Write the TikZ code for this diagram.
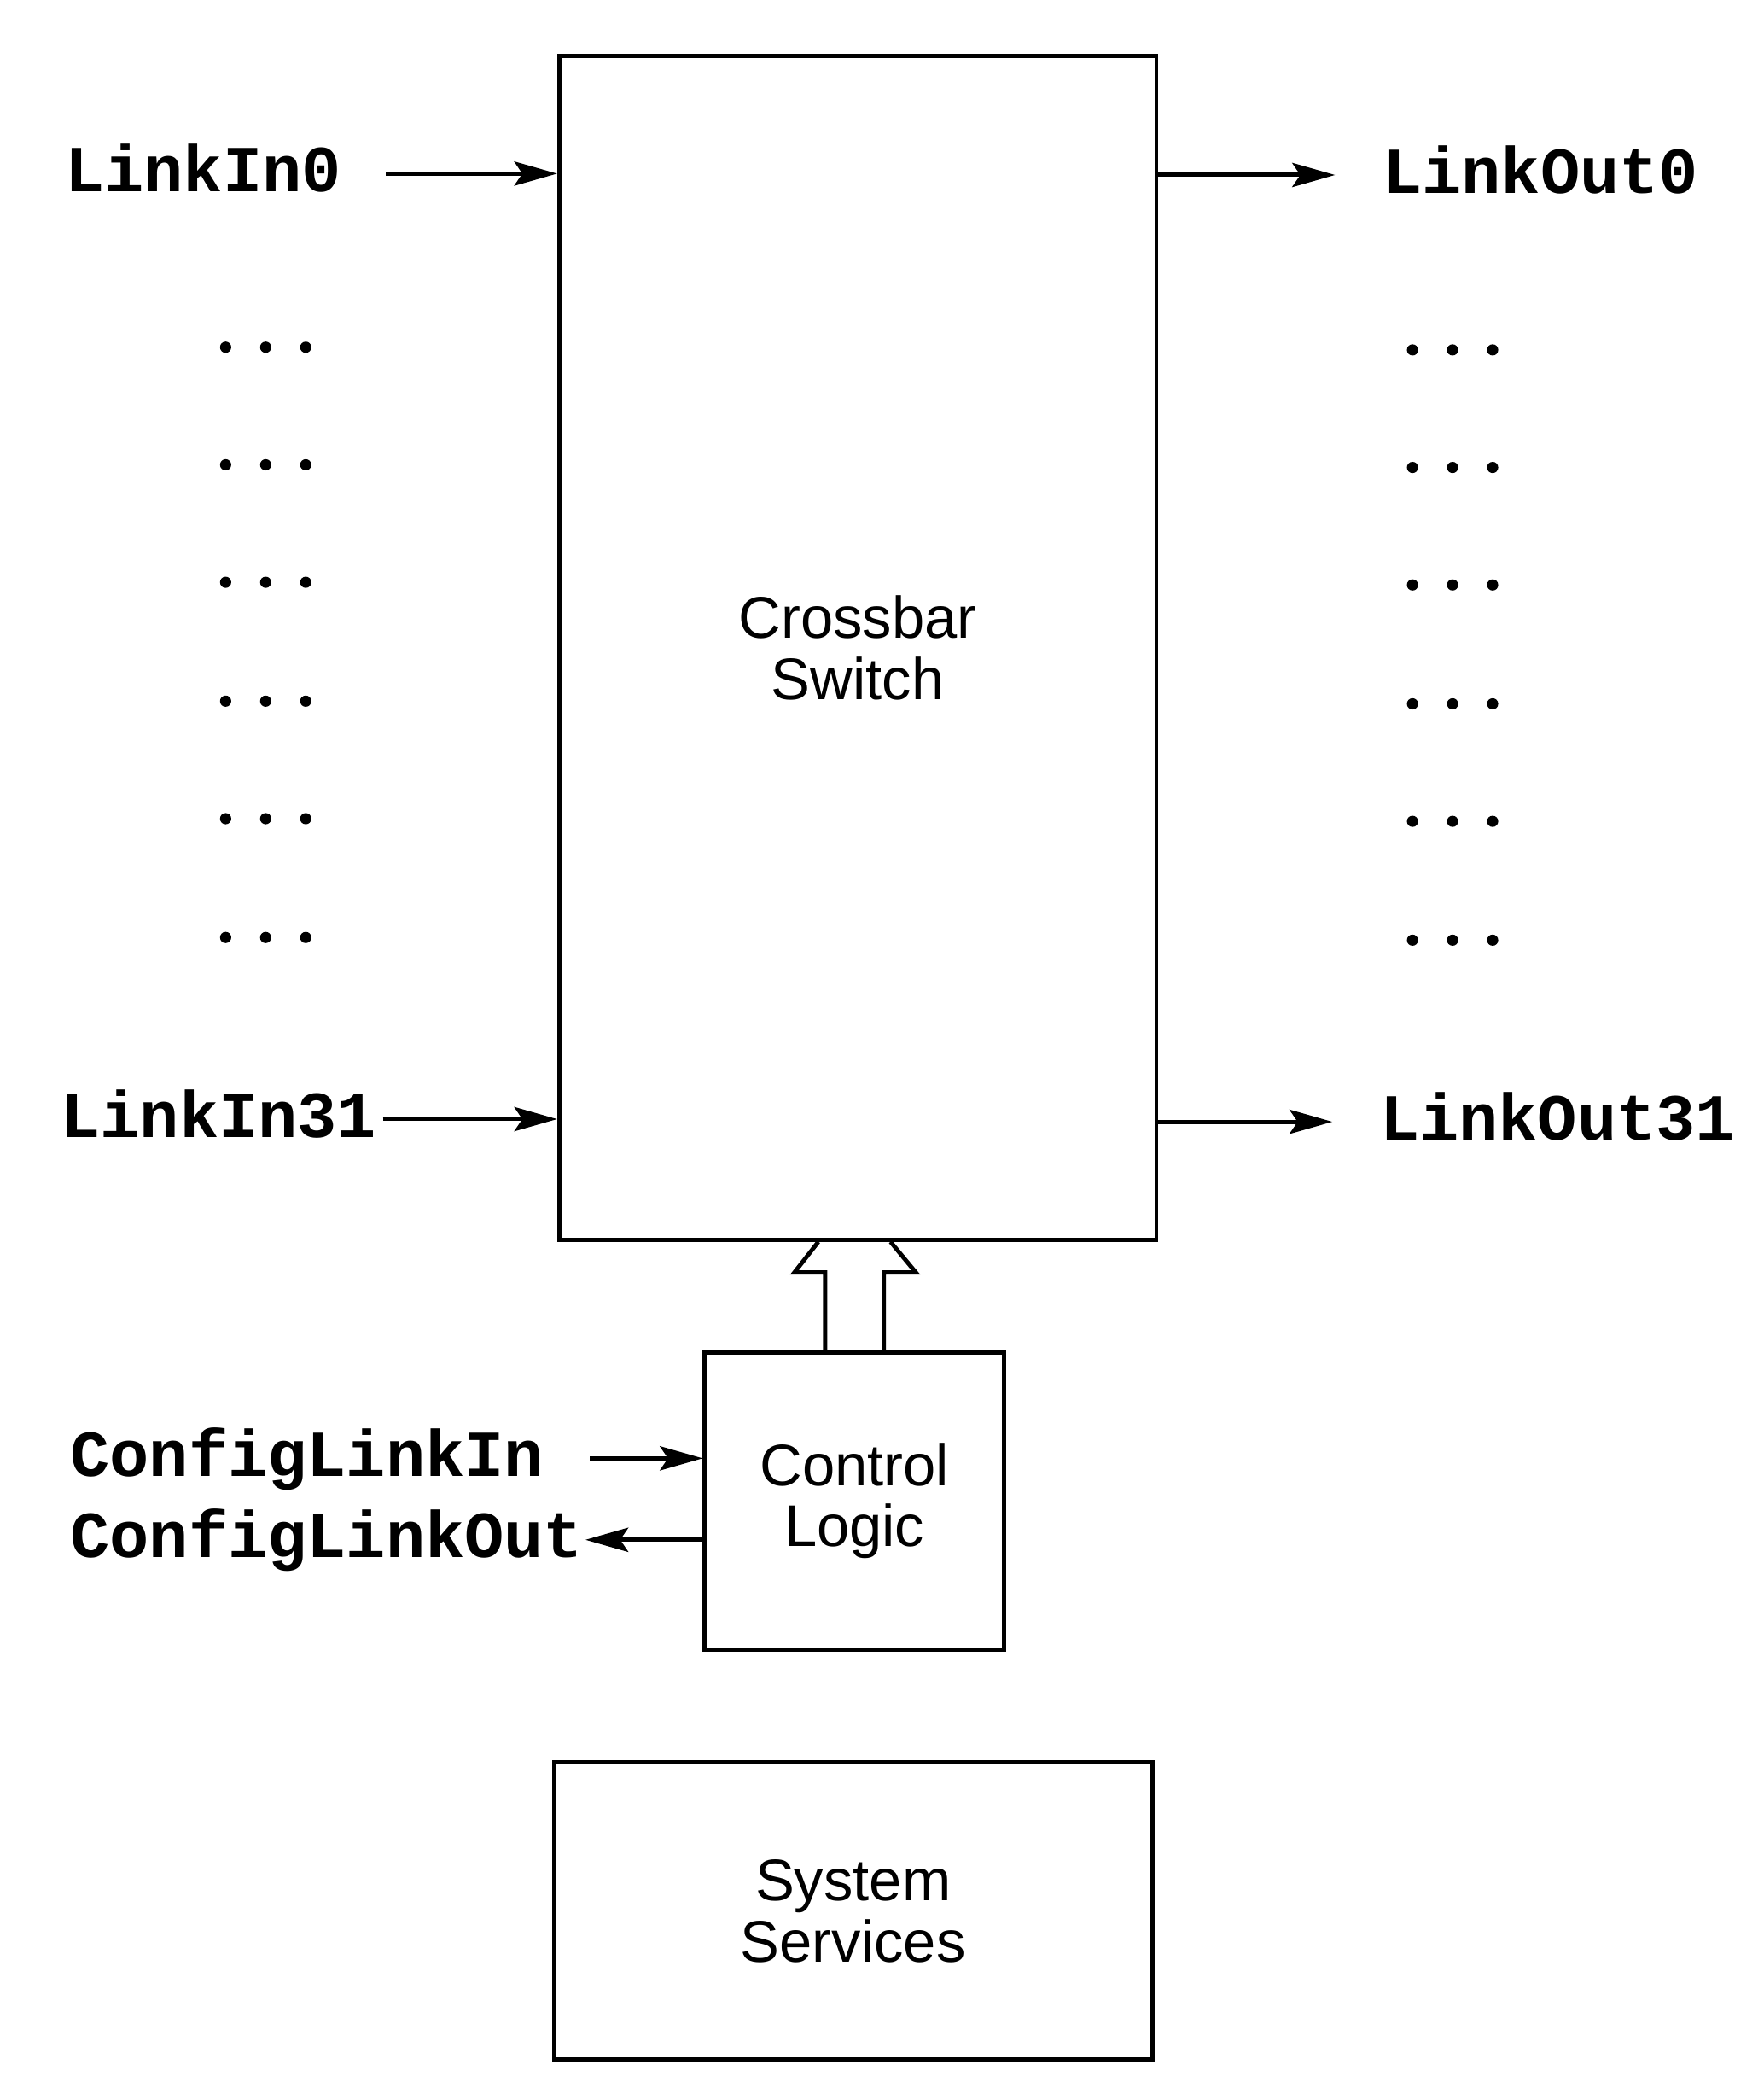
\documentclass[tikz,border=0pt]{standalone}
\usepackage{fontspec}
\setmainfont{Liberation Sans}
\newfontfamily\codefont{Liberation Mono}
\usetikzlibrary{arrows.meta,positioning}

\tikzset{
  blk/.style={draw, line width=0.9pt, align=center, inner sep=0pt,
    font=\fontsize{12.5}{13}\selectfont},
  port/.style={inner sep=0pt, text height=0.27cm, text depth=0pt,
    font=\codefont\bfseries\fontsize{14}{14}\selectfont},
  sig/.style={line width=0.9pt, -{Stealth[length=0.32cm,width=0.18cm,inset=0.06cm]}},
  bus/.style={line width=0.9pt, line join=miter},
}

\begin{document}
\begin{tikzpicture}[x=0.01cm,y=-0.01cm]
      \useasboundingbox (0,0) rectangle (1321,1568);

      % blocks
      \node[blk, minimum width=4.47cm, minimum height=8.86cm] (xbar) at (642.5,485) {Crossbar\\Switch};
      \node[blk, minimum width=2.24cm, minimum height=2.22cm] (ctrl) at (640,1124) {Control\\Logic};
      \node[blk, minimum width=4.48cm, minimum height=2.22cm] (sys) at (639,1431) {System\\Services};

      % link names
      \node[port, anchor=west] (lin0) at (48,130) {LinkIn0};
      \node[port, anchor=west] (lin31) at (45,838) {LinkIn31};
      \node[port, anchor=west] (lout0) at (1035,131) {LinkOut0};
      \node[port, anchor=west] (lout31) at (1033,840) {LinkOut31};
      \node[port, anchor=west] (cfgin) at (52,1092) {ConfigLinkIn};
      \node[port, anchor=west] (cfgout) at (52,1153) {ConfigLinkOut};

      % links
      \draw[sig] ([xshift=0.33cm]lin0.east) -- (lin0.east -| xbar.west);
      \draw[sig] ([xshift=0.04cm]lin31.east) -- (lin31.east -| xbar.west);
      \draw[sig] (lout0.west -| xbar.east) -- ([xshift=-0.35cm]lout0.west);
      \draw[sig] (lout31.west -| xbar.east) -- ([xshift=-0.35cm]lout31.west);
      \draw[sig] ([xshift=0.34cm]cfgin.east) -- (cfgin.east -| ctrl.west);
      \draw[sig] (cfgout.east -| ctrl.west) -- ([xshift=0.01cm]cfgout.east);

      % the elided links
      \foreach \y in {260,348,436,525,613,702} {
        \foreach \x in {169,199,229}
          \fill (\x,\y) circle[radius=0.042cm];
        \foreach \x in {1058,1088,1118}
          \fill (\x,\y+2) circle[radius=0.042cm];
      }

      % wide arrow from control logic to the switch
      \draw[bus] ([xshift=-0.22cm]ctrl.north) |- ([xshift=-0.45cm,yshift=-0.23cm]ctrl.north |- xbar.south)
        -- ([xshift=-0.27cm]ctrl.north |- xbar.south);
      \draw[bus] ([xshift=0.22cm]ctrl.north) |- ([xshift=0.46cm,yshift=-0.23cm]ctrl.north |- xbar.south)
        -- ([xshift=0.27cm]ctrl.north |- xbar.south);
    \end{tikzpicture}
\end{document}
